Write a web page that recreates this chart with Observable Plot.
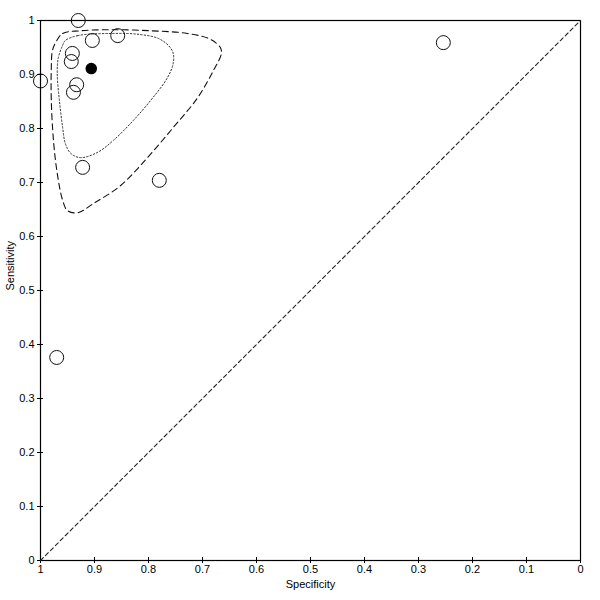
<!DOCTYPE html>
<html><head><meta charset="utf-8">
<script src="https://cdn.jsdelivr.net/npm/d3@7"></script>
<script src="https://cdn.jsdelivr.net/npm/@observablehq/plot@0.6"></script>
<style>body{margin:0;background:#fff}</style>
</head><body><div id="chart"></div>
<script>
const studySpec = [0.930, 0.857, 0.904, 0.941, 0.943, 1.000, 0.933, 0.939, 0.922, 0.780, 0.254, 0.970];
const studySens = [1.000, 0.972, 0.963, 0.939, 0.924, 0.888, 0.881, 0.867, 0.728, 0.704, 0.959, 0.376];
const summarySpec = [0.906];
const summarySens = [0.911];
const confSpec = [0.954,0.931,0.870,0.815,0.778,0.756,0.754,0.765,0.796,0.828,0.865,0.894,0.926,0.944,0.954,0.959,0.965,0.969,0.967,0.959];
const confSens = [0.963,0.972,0.976,0.974,0.965,0.944,0.922,0.894,0.852,0.815,0.778,0.756,0.746,0.754,0.772,0.802,0.852,0.902,0.931,0.954];
const predSpec = [0.972,0.959,0.926,0.870,0.796,0.728,0.685,0.667,0.665,0.680,0.709,0.754,0.802,0.852,0.902,0.931,0.950,0.959,0.969,0.976,0.980,0.980,0.978];
const predSens = [0.959,0.976,0.981,0.983,0.981,0.976,0.965,0.950,0.939,0.907,0.857,0.802,0.746,0.694,0.661,0.644,0.648,0.667,0.717,0.778,0.852,0.913,0.944];
const diagSpec = [1, 0];
const diagSens = [0, 1];
const tickValues = d3.range(0, 11).map(i => i / 10);

const studies = studySpec.map((s, i) => ({spec: s, sens: studySens[i]}));
const summary = summarySpec.map((s, i) => ({spec: s, sens: summarySens[i]}));
const conf = confSpec.map((s, i) => ({spec: s, sens: confSens[i]}));
const pred = predSpec.map((s, i) => ({spec: s, sens: predSens[i]}));
const diag = diagSpec.map((s, i) => ({spec: s, sens: diagSens[i]}));

const chart = Plot.plot({
  width: 600, height: 600,
  marginLeft: 40, marginRight: 20, marginTop: 20, marginBottom: 40,
  style: {fontFamily: "Liberation Sans, Arial, sans-serif", fontSize: "11px", color: "#000", background: "#fff"},
  x: {domain: [1, 0], label: null},
  y: {domain: [0, 1], label: null},
  marks: [
    Plot.frame({stroke: "#000", strokeWidth: 1.2}),
    Plot.axisX({ticks: tickValues, tickSize: 3, tickPadding: 2, tickFormat: d3.format("~g"), stroke: "#000", fill: "#000", fontSize: 11}),
    Plot.axisX({ticks: tickValues, tickSize: -3, tickFormat: () => "", stroke: "#000"}),
    Plot.axisY({ticks: tickValues, tickSize: 3, tickPadding: 3, tickFormat: d3.format("~g"), stroke: "#000", fill: "#000", fontSize: 11}),
    Plot.axisY({ticks: tickValues, tickSize: -3, tickFormat: () => "", stroke: "#000"}),
    Plot.text(["Specificity"], {frameAnchor: "bottom", dy: 27, fontSize: 11, fill: "#000"}),
    Plot.text(["Sensitivity"], {frameAnchor: "left", dx: -30, rotate: -90, fontSize: 11, fill: "#000"}),
    Plot.line(diag, {x: "spec", y: "sens", stroke: "#222", strokeWidth: 1.1, strokeDasharray: "4,3"}),
    Plot.line(pred, {x: "spec", y: "sens", curve: "catmull-rom-closed", stroke: "#111", strokeWidth: 1.1, strokeDasharray: "6,4"}),
    Plot.line(conf, {x: "spec", y: "sens", curve: "catmull-rom-closed", stroke: "#333", strokeWidth: 1, strokeDasharray: "1.5,2"}),
    Plot.dot(studies, {x: "spec", y: "sens", r: 7, stroke: "#111", strokeWidth: 1, fill: "none"}),
    Plot.dot(summary, {x: "spec", y: "sens", r: 5, fill: "#000", stroke: "#000"})
  ]
});
document.getElementById("chart").appendChild(chart);
</script>
</body></html>
